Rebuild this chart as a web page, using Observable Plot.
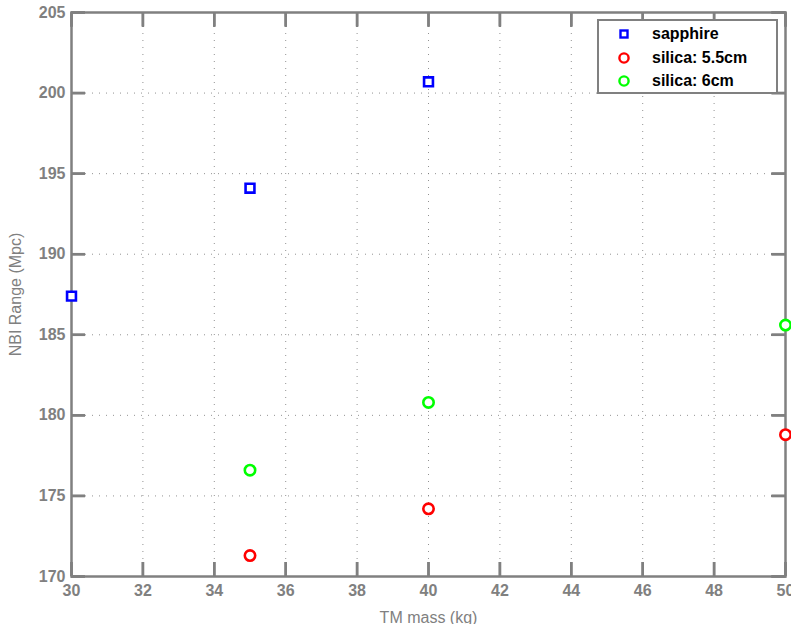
<!DOCTYPE html>
<html>
<head>
<meta charset="utf-8">
<script src="https://cdn.jsdelivr.net/npm/d3@7"></script>
<script src="https://cdn.jsdelivr.net/npm/@observablehq/plot@0.6"></script>
<style>
  html, body { margin: 0; padding: 0; background: #fff; }
  #chart { position: relative; width: 791px; height: 624px; font-family: "Liberation Sans", Arial, sans-serif; }
  #legend {
    position: absolute; left: 597px; top: 19px; width: 177px; height: 71px;
    border: 2px solid #808080; background: #fff; box-sizing: content-box;
  }
  #legend .row { position: absolute; left: 0; height: 20px; }
  #legend svg { position: absolute; left: 19px; top: 4px; }
  #legend span { position: absolute; left: 53px; top: 1px; font-weight: bold; font-size: 16px; line-height: 18px; color: #000; white-space: nowrap; }
</style>
</head>
<body>
<div id="chart"></div>
<script>
// Test-mass mass (kg) vs. NBI range (Mpc)
const sapphireMass = [30, 35, 40];
const sapphireRange = [187.4, 194.1, 200.7];
const silica55Mass = [35, 40, 50];
const silica55Range = [171.3, 174.2, 178.8];
const silica6Mass = [35, 40, 50];
const silica6Range = [176.6, 180.8, 185.6];

const xTicks = [30, 32, 34, 36, 38, 40, 42, 44, 46, 48, 50];
const yTicks = [170, 175, 180, 185, 190, 195, 200, 205];

const seriesNames = ["sapphire", "silica: 5.5cm", "silica: 6cm"];
const seriesColors = ["#0000ff", "#ff0000", "#00ff00"];
const seriesSymbols = ["square", "circle", "circle"];

const toRows = (xs, ys, name) => xs.map((x, i) => ({mass: x, range: ys[i], series: name}));
const squares = toRows(sapphireMass, sapphireRange, seriesNames[0]);
const circles = [
  ...toRows(silica55Mass, silica55Range, seriesNames[1]),
  ...toRows(silica6Mass, silica6Range, seriesNames[2])
];

const W = 791, H = 624;
const mTop = 12, mBottom = 48, mLeft = 71, mRight = 6;
const innerH = H - mTop - mBottom, innerW = W - mLeft - mRight;
const tickLen = 14;
const axisGray = "#808080";
const inner = (v, lo, hi) => v > lo && v < hi;
const noText = () => "";
const tickStyle = {stroke: axisGray, strokeWidth: 2.5, strokeOpacity: 1};

const chart = Plot.plot({
  width: W,
  height: H,
  marginTop: mTop,
  marginBottom: mBottom,
  marginLeft: mLeft,
  marginRight: mRight,
  style: {fontFamily: "'Liberation Sans', Arial, sans-serif", background: "#fff"},
  x: {domain: [30, 50]},
  y: {domain: [170, 205]},
  symbol: {domain: seriesNames, range: seriesSymbols},
  color: {domain: seriesNames, range: seriesColors},
  marks: [
    // dotted grid
    Plot.gridX(xTicks.filter(v => inner(v, 30, 50)), {stroke: "#777", strokeOpacity: 0.8, strokeDasharray: "1,6", strokeWidth: 1}),
    Plot.gridY(yTicks.filter(v => inner(v, 170, 205)), {stroke: "#777", strokeOpacity: 0.8, strokeDasharray: "1,6", strokeWidth: 1}),
    Plot.frame({stroke: axisGray, strokeWidth: 2.5}),
    // bottom and left axes: inward ticks, bold labels outside, titles
    Plot.axisX(xTicks, {anchor: "bottom", tickSize: -tickLen, tickPadding: tickLen + 8, ...tickStyle,
      fontSize: 16, fontWeight: "bold", fill: axisGray,
      label: "TM mass (kg)", labelAnchor: "center", labelArrow: "none", labelOffset: 46}),
    Plot.axisY(yTicks, {anchor: "left", tickSize: -tickLen, tickPadding: tickLen + 6, ...tickStyle,
      fontSize: 16, fontWeight: "bold", fill: axisGray,
      label: "NBI Range (Mpc)", labelAnchor: "center", labelArrow: "none", labelOffset: 62}),
    // top and right axes: inward ticks only
    Plot.axisX(xTicks, {anchor: "top", tickSize: -tickLen, ...tickStyle, tickFormat: noText, label: null}),
    Plot.axisY(yTicks, {anchor: "right", tickSize: -tickLen, ...tickStyle, tickFormat: noText, label: null}),
    // inward tick strokes drawn as inset ticks along each frame edge
    Plot.tickX(xTicks, {x: d => d, insetTop: innerH - tickLen, ...tickStyle}),
    Plot.tickX(xTicks, {x: d => d, insetBottom: innerH - tickLen, ...tickStyle}),
    Plot.tickY(yTicks, {y: d => d, insetRight: innerW - tickLen, ...tickStyle}),
    Plot.tickY(yTicks, {y: d => d, insetLeft: innerW - tickLen, ...tickStyle}),
    // data markers
    Plot.dot(squares, {x: "mass", y: "range", symbol: "series", stroke: "series", r: 5, strokeWidth: 2.6, fill: "#fff"}),
    Plot.dot(circles, {x: "mass", y: "range", symbol: "series", stroke: "series", r: 5.2, strokeWidth: 2.6, fill: "#fff"})
  ]
});

// axis title styling: normal weight, gray
chart.querySelectorAll("g[aria-label='x-axis label'] text, g[aria-label='y-axis label'] text").forEach(t => {
  t.setAttribute("font-weight", "normal");
  t.setAttribute("font-size", "16");
  t.setAttribute("fill", axisGray);
});

const container = document.getElementById("chart");
container.appendChild(chart);

// legend box
const legend = document.createElement("div");
legend.id = "legend";
seriesNames.forEach((name, i) => {
  const row = document.createElement("div");
  row.className = "row";
  row.style.top = (3 + i * 23.5) + "px";
  row.style.width = "100%";
  const sym = seriesSymbols[i] === "square"
    ? `<rect x="2.5" y="2.5" width="7" height="7" fill="#fff" stroke="${seriesColors[i]}" stroke-width="2.4"/>`
    : `<circle cx="6" cy="6" r="4.6" fill="#fff" stroke="${seriesColors[i]}" stroke-width="2.4"/>`;
  row.innerHTML = `<svg width="12" height="12" viewBox="0 0 12 12">${sym}</svg><span>${name}</span>`;
  legend.appendChild(row);
});
container.appendChild(legend);
</script>
</body>
</html>
